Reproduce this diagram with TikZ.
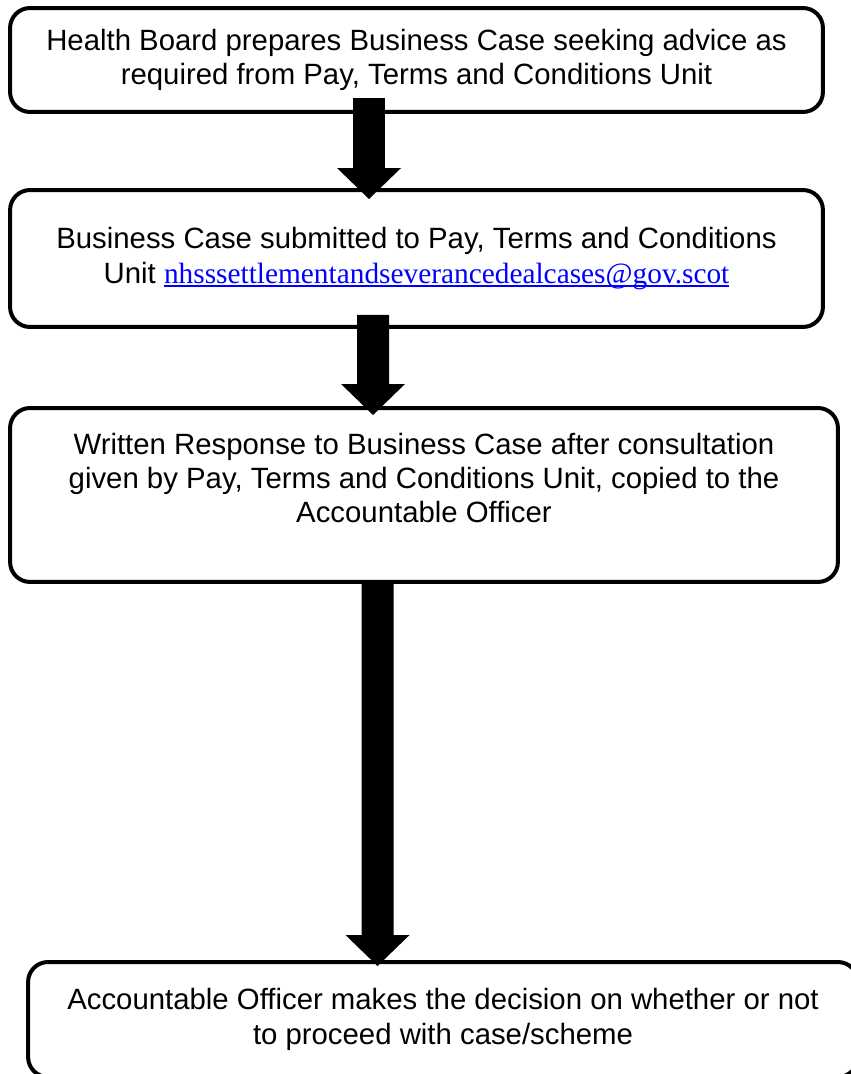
\documentclass[tikz,border=0pt]{standalone}
\usepackage{fontspec}
\setmainfont{Liberation Sans}
\newfontfamily\linkfont{Liberation Serif}
\usetikzlibrary{arrows.meta}
\definecolor{linkblue}{RGB}{0,0,255}
\newcommand\maillink[1]{{\linkfont\color{linkblue}\setbox0\hbox{#1}%
  \rlap{\copy0}\rule[-2.4pt]{\wd0}{1.1pt}}}
\tikzstyle{stage}=[draw, rectangle, rounded corners=0.4cm, line width=0.08cm,
                   outer sep=0pt, inner sep=0pt, align=center,
                   font=\fontsize{16.7}{19.6}\selectfont]
\tikzstyle{blockarrow}=[line width=0.64cm,
                   -{Triangle[width=1.28cm,length=0.62cm,line width=0pt]}]

\begin{document}
\begin{tikzpicture}[x=0.02cm, y=-0.02cm]
  \useasboundingbox (0,0) rectangle (851,1074);
  % Stages of the process
  \node[stage, minimum width=16.26cm, minimum height=2.08cm] (hb) at (416.5,60)
    {Health Board prepares Business Case seeking advice as\\
     required from Pay, Terms and Conditions Unit};
  \node[stage, minimum width=16.26cm, minimum height=2.74cm] (sub) at (416.5,258.5)
    {Business Case submitted to Pay, Terms and Conditions\\
     Unit \maillink{nhsssettlementandseverancedealcases@gov.scot}};
  \node[stage, minimum width=16.56cm, anchor=north, text height=2.3cm,
        text depth=1.18cm] (resp) at (424,408)
    {Written Response to Business Case after consultation\\
     given by Pay, Terms and Conditions Unit, copied to the\\
     Accountable Officer};
  \node[stage, minimum width=16.6cm, minimum height=2.3cm] (ao) at (443,1019.5)
    {Accountable Officer makes the decision on whether or not\\
     to proceed with case/scheme};
  %
  % Arrows between stages
  \draw[blockarrow] ([xshift=-0.95cm,yshift=0.28cm]hb.south)
    -- ([xshift=-0.95cm,yshift=-0.18cm]sub.north);
  \draw[blockarrow] ([xshift=-0.87cm,yshift=0.24cm]sub.south)
    -- ([xshift=-1.02cm,yshift=-0.14cm]resp.north);
  \draw[blockarrow] ([xshift=-0.93cm,yshift=-0.04cm]resp.south)
    -- ([xshift=-1.31cm,yshift=-0.08cm]ao.north);
\end{tikzpicture}
\end{document}
